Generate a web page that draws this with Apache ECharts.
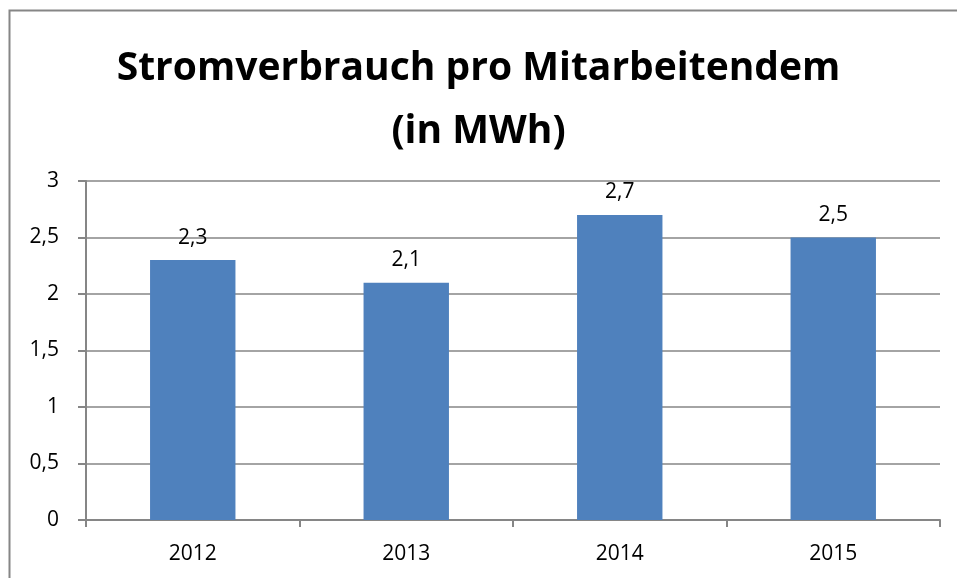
<!DOCTYPE html>
<html>
<head>
<meta charset="utf-8">
<script src="https://cdn.jsdelivr.net/npm/echarts@6/dist/echarts.min.js"></script>
<style>
  html, body { margin: 0; padding: 0; background: #fff; }
  #chart { width: 957px; height: 578px; }
</style>
</head>
<body>
<div id="chart"></div>
<script>
var years = ['2012', '2013', '2014', '2015'];
var verbrauch = [2.3, 2.1, 2.7, 2.5];
var titleText = 'Stromverbrauch pro Mitarbeitendem\n(in MWh)';

var komma = function (v) { return String(v).replace('.', ','); };

var myChart = echarts.init(document.getElementById('chart'));
var option = {
    animation: false,
    textStyle: { fontFamily: 'Open Sans' },
    title: {
        text: titleText,
        left: 'center',
        top: 32,
        textStyle: {
            fontFamily: 'Open Sans',
            fontSize: 39,
            fontWeight: 'bold',
            color: '#000',
            lineHeight: 63
        }
    },
    graphic: [{
        type: 'rect',
        shape: { x: 9.5, y: 10.5, width: 960, height: 600 },
        style: { fill: 'none', stroke: '#868686', lineWidth: 2 },
        silent: true
    }],
    grid: { left: 86, right: 17, top: 181, bottom: 58 },
    xAxis: {
        type: 'category',
        data: years,
        axisLine: { lineStyle: { color: '#868686', width: 2 } },
        axisTick: { show: true, length: 7, alignWithLabel: false, lineStyle: { color: '#868686', width: 2 } },
        axisLabel: { color: '#000', fontSize: 21, margin: 24 }
    },
    yAxis: {
        type: 'value',
        min: 0,
        max: 3,
        interval: 0.5,
        axisLine: { show: true, lineStyle: { color: '#868686', width: 2 } },
        axisTick: { show: true, length: 8, lineStyle: { color: '#868686', width: 2 } },
        axisLabel: { color: '#000', fontSize: 21, margin: 27, formatter: komma },
        splitLine: { lineStyle: { color: '#868686', width: 1.5 } }
    },
    series: [{
        type: 'bar',
        data: verbrauch,
        barWidth: '40%',
        itemStyle: { color: '#4F81BD' },
        label: {
            show: true,
            position: 'top',
            distance: 12,
            color: '#000',
            fontSize: 21,
            formatter: function (p) { return komma(p.value); }
        }
    }]
};
myChart.setOption(option);
</script>
</body>
</html>
